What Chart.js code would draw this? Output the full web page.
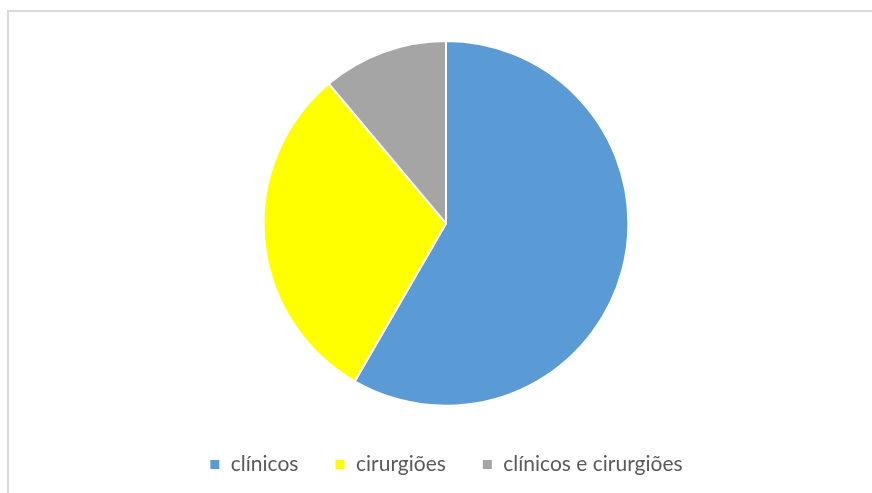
<!DOCTYPE html>
<html>
<head>
<meta charset="utf-8">
<script src="https://cdn.jsdelivr.net/npm/chart.js@4"></script>
<style>
    html, body { margin: 0; padding: 0; background: #fff; }
    #wrap { position: relative; width: 872px; height: 493px; }
    #frame {
        position: absolute; left: 7px; top: 10px; right: -10px; bottom: -10px;
        border-left: 2px solid #d9d9d9; border-top: 2px solid #d9d9d9;
    }
    canvas { position: absolute; left: 0; top: 0; }
</style>
</head>
<body>
<div id="wrap">
    <div id="frame"></div>
    <canvas id="pieChart" width="872" height="493"></canvas>
</div>
<script>
// Pie data
const categories = ['clínicos', 'cirurgiões', 'clínicos e cirurgiões'];
const values = [21, 11, 4];
const colors = ['#5b9bd5', '#ffff00', '#a5a5a5'];

const ctx = document.getElementById('pieChart').getContext('2d');

new Chart(ctx, {
    type: 'pie',
    data: {
        labels: categories,
        datasets: [{
            data: values,
            backgroundColor: colors,
            borderColor: '#ffffff',
            borderWidth: 2
        }]
    },
    options: {
        responsive: false,
        animation: false,
        layout: {
            padding: { top: 40, bottom: 8, left: 20, right: 0 }
        },
        plugins: {
            tooltip: { enabled: false },
            legend: {
                position: 'bottom',
                title: {
                    display: true,
                    text: ' ',
                    font: { size: 1 },
                    padding: { top: 10, bottom: 0 }
                },
                labels: {
                    usePointStyle: true,
                    pointStyle: 'rect',
                    boxWidth: 11,
                    boxHeight: 11,
                    padding: 36,
                    color: '#595959',
                    font: { family: 'Lato', size: 21 }
                }
            }
        }
    }
});
</script>
</body>
</html>
